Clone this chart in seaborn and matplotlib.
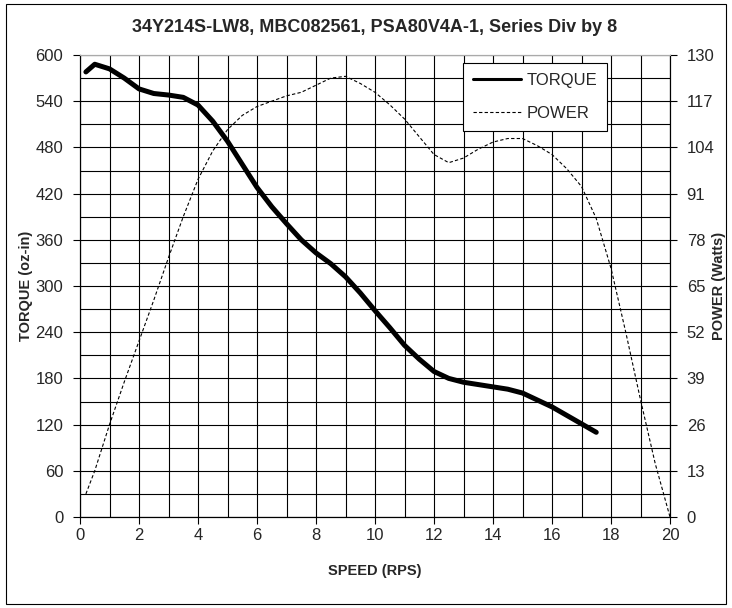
"""Torque / power curve for 34Y214S-LW8 drive, redrawn from the datasheet chart."""

import matplotlib

matplotlib.use("Agg")
import matplotlib.pyplot as plt
import seaborn as sns
from matplotlib.lines import Line2D
from matplotlib.patches import Rectangle
from matplotlib.ticker import MultipleLocator

TITLE = "34Y214S-LW8, MBC082561, PSA80V4A-1, Series Div by 8"

torque_speed = [0.2, 0.5, 1.0, 1.5, 2.0, 2.5, 3.0, 3.5, 4.0, 4.5, 5.0, 5.5,
                6.0, 6.5, 7.0, 7.5, 8.0, 8.5, 9.0, 9.5, 10.0, 10.5, 11.0, 11.5,
                12.0, 12.5, 13.0, 13.5, 14.0, 14.5, 15.0, 15.5, 16.0, 16.5, 17.0, 17.5]
torque = [578, 588, 582, 570, 556, 550, 548, 545, 535, 514, 488, 458,
          428, 403, 381, 360, 343, 329, 312, 291, 268, 246, 223, 205,
          189, 180, 175, 172, 169, 166, 161, 152, 143, 132, 121, 110]

power_speed = [0.2, 0.5, 1.0, 1.5, 2.0, 2.5, 3.0, 3.5, 4.0, 4.5, 5.0, 5.5,
               6.0, 6.5, 7.0, 7.5, 8.0, 8.5, 9.0, 9.5, 10.0, 10.5, 11.0, 11.5,
               12.0, 12.5, 13.0, 13.5, 14.0, 14.5, 15.0, 15.5, 16.0, 16.5, 17.0, 17.5,
               18.0, 18.5, 19.0, 19.5, 20.0]
power = [6.5, 13, 26, 38, 49.5, 61, 73, 84.5, 95, 103, 109, 113,
         115.5, 117, 118.5, 119.5, 121.5, 123.5, 124, 122, 119.5, 116, 112, 107,
         102, 99.7, 101, 103.5, 105.5, 106.5, 106.5, 104.5, 102, 98, 93, 84,
         70, 52, 33, 15, 0]

x_ticks = list(range(0, 21, 2))
torque_ticks = list(range(0, 601, 60))
power_ticks = list(range(0, 131, 13))

sns.set_style("white")
plt.rcParams["font.family"] = ["Liberation Sans", "DejaVu Sans"]

fig = plt.figure(figsize=(7.32, 6.08), dpi=100)
ax = fig.add_axes([80 / 732, 91 / 608, 590 / 732, 462 / 608])
ax2 = ax.twinx()

sns.lineplot(x=torque_speed, y=torque, ax=ax, color="black", linewidth=3.6,
             sort=False, solid_capstyle="round", solid_joinstyle="round", zorder=4)
sns.lineplot(x=power_speed, y=power, ax=ax2, color="black", linewidth=0.8,
             sort=False, linestyle=(0, (3, 2)), zorder=3)

ax.set_xlim(0, 20)
ax.set_ylim(0, 600)
ax2.set_ylim(0, 130)
ax.set_xticks(x_ticks)
ax.set_yticks(torque_ticks)
ax2.set_yticks(power_ticks)
ax.xaxis.set_minor_locator(MultipleLocator(1))
ax.yaxis.set_minor_locator(MultipleLocator(30))

ax.grid(which="both", color="black", linewidth=0.8)
ax.set_axisbelow(True)
ax.tick_params(axis="x", which="major", direction="out", length=5, width=0.8,
               color="black", labelsize=12, pad=3, bottom=True)
ax.tick_params(axis="y", which="major", direction="out", length=5, width=0.8,
               color="black", labelsize=12, pad=7, left=True)
ax.tick_params(which="minor", length=0)
ax2.tick_params(axis="y", direction="out", length=5, width=0.8, color="black",
                labelsize=12, pad=7, right=True)

for axis in (ax, ax2):
    for spine in axis.spines.values():
        spine.set_color("black")
        spine.set_linewidth(0.8)
    axis.spines["top"].set_color("#aaaaaa")

ax.set_xlabel("SPEED (RPS)", fontsize=10.5, fontweight="bold", va="center")
ax.xaxis.set_label_coords(0.5, -0.117)
ax.set_ylabel("TORQUE (oz-in)", fontsize=10.5, fontweight="bold", va="center")
ax.yaxis.set_label_coords(-0.092, 0.5)
ax2.set_ylabel("POWER (Watts)", fontsize=10.5, fontweight="bold", va="center")
ax2.yaxis.set_label_coords(1.083, 0.5)
ax.set_title(TITLE, fontsize=13, fontweight="bold", y=1.06, pad=0, va="center")

handles = [
    Line2D([], [], color="black", linewidth=2.2),
    Line2D([], [], color="black", linewidth=0.8, linestyle=(0, (3, 2))),
]
leg = ax2.legend(handles, ["TORQUE", "POWER"], loc="upper left",
                 bbox_to_anchor=(0.649, 0.983), fontsize=12, frameon=True,
                 fancybox=False, edgecolor="black", framealpha=1,
                 handlelength=2.9, labelspacing=1.1, borderpad=0.6,
                 handletextpad=0.3, borderaxespad=0)
leg.get_frame().set_linewidth(0.8)

fig.patches.append(Rectangle((6 / 732, 4 / 608), 720 / 732, 600 / 608,
                             transform=fig.transFigure, fill=False,
                             edgecolor="black", linewidth=0.8))

fig.savefig("out.png", dpi=100)
plt.close(fig)
